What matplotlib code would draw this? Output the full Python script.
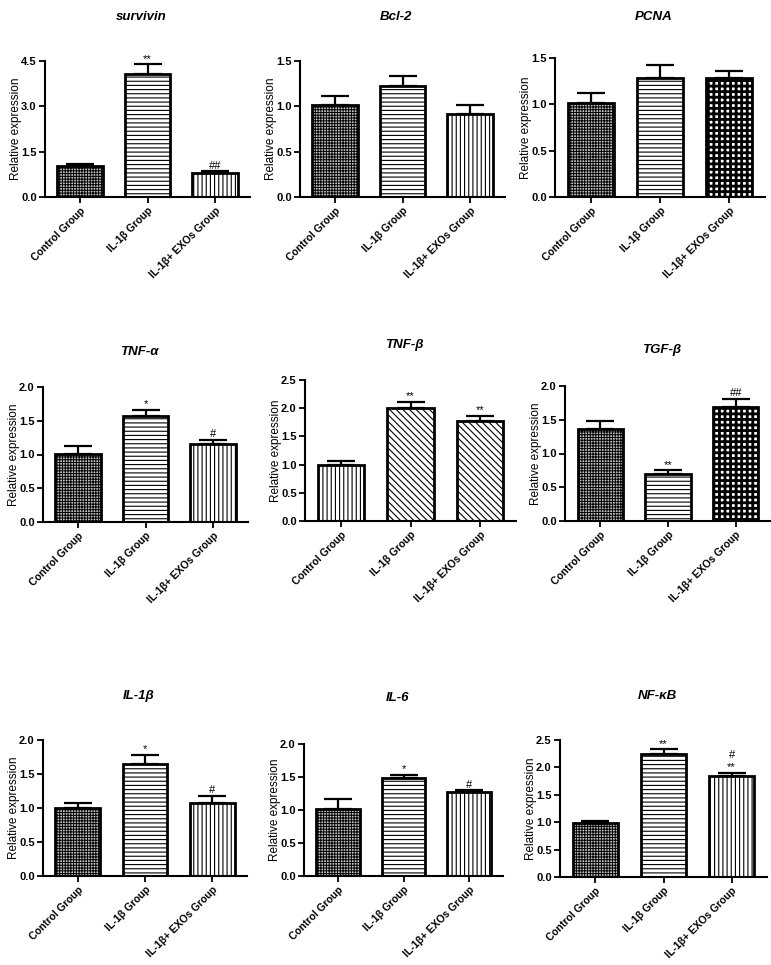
import matplotlib
matplotlib.use('Agg')
import matplotlib.pyplot as plt

plt.rcParams['font.family'] = ['Liberation Sans', 'DejaVu Sans']

groups = ['Control Group', 'IL-1β Group', 'IL-1β+ EXOs Group']

# one list per gene: means, upper error, significance marks
genes = ['survivin', 'Bcl-2', 'PCNA', 'TNF-α', 'TNF-β', 'TGF-β', 'IL-1β', 'IL-6', 'NF-κB']
means = [
    [1.01, 4.06, 0.79],
    [1.02, 1.22, 0.92],
    [1.01, 1.28, 1.28],
    [1.01, 1.57, 1.16],
    [1.00, 2.01, 1.78],
    [1.37, 0.70, 1.69],
    [1.00, 1.64, 1.08],
    [1.02, 1.49, 1.28],
    [0.99, 2.24, 1.85],
]
errors = [
    [0.09, 0.33, 0.06],
    [0.09, 0.11, 0.09],
    [0.11, 0.14, 0.08],
    [0.11, 0.09, 0.06],
    [0.07, 0.10, 0.09],
    [0.11, 0.05, 0.12],
    [0.08, 0.14, 0.10],
    [0.14, 0.04, 0.02],
    [0.03, 0.09, 0.05],
]
marks = [
    ['', '**', '##'],
    ['', '', ''],
    ['', '', ''],
    ['', '*', '#'],
    ['', '**', '**'],
    ['', '**', '##'],
    ['', '*', '#'],
    ['', '*', '#'],
    ['', '**', '#\n**'],
]
ymax = [4.5, 1.5, 1.5, 2.0, 2.5, 2.0, 2.0, 2.0, 2.5]
ysteps = [1.5, 0.5, 0.5, 0.5, 0.5, 0.5, 0.5, 0.5, 0.5]

# hatch per bar: fine checker, horizontal, vertical, coarse checker, diagonal
FINE, HOR, VER, COARSE, DIAG = 'fine', 'hor', 'ver', 'coarse', 'diag'
hatches = [
    [FINE, HOR, VER],
    [FINE, HOR, VER],
    [FINE, HOR, COARSE],
    [FINE, HOR, VER],
    [VER, DIAG, DIAG],
    [FINE, HOR, COARSE],
    [FINE, HOR, VER],
    [FINE, HOR, VER],
    [FINE, HOR, VER],
]
hatch_style = {
    FINE: ('++++++', 0.7, '#bdbdbd'),
    HOR: ('----', 0.8, 'white'),
    VER: ('||||', 0.8, 'white'),
    COARSE: ('+++', 2.0, 'white'),
    DIAG: ('\\\\\\\\\\', 0.8, 'white'),
}

# axes boxes in pixels: left, right, top (ymax), bottom (0)
boxes = [
    (45, 250, 61, 197), (300, 505, 61, 197), (555, 765, 58, 197),
    (43, 248, 387, 522), (305, 516, 380, 521), (565, 771, 386, 521),
    (43, 247, 740, 876), (304, 503, 744, 876), (560, 767, 740, 877),
]
title_y = [17, 17, 17, 352, 345, 350, 696, 698, 696]

W, H = 771, 965
fig = plt.figure(figsize=(W / 100, H / 100), dpi=100)

for i, g in enumerate(genes):
    l, r, t, b = boxes[i]
    ax = fig.add_axes([l / W, 1 - b / H, (r - l) / W, (b - t) / H])
    for j in range(3):
        pat, hlw, fc = hatch_style[hatches[i][j]]
        with plt.rc_context({'hatch.linewidth': hlw}):
            ax.bar(j, means[i][j], width=0.67, color=fc, edgecolor='black',
                   hatch=pat, linewidth=2, zorder=2)
        ax.errorbar(j, means[i][j], yerr=[[0], [errors[i][j]]], fmt='none',
                    ecolor='black', elinewidth=1.6, capsize=10, capthick=1.6, zorder=1)
        if marks[i][j]:
            ax.text(j, means[i][j] + errors[i][j] + ymax[i] * 0.005, marks[i][j],
                    ha='center', va='bottom', fontsize=8, linespacing=1.3)
    ax.set_xlim(-0.52, 2.52)
    ax.set_ylim(0, ymax[i])
    n = int(round(ymax[i] / ysteps[i]))
    ax.set_yticks([k * ysteps[i] for k in range(n + 1)])
    ax.yaxis.set_major_formatter(plt.FormatStrFormatter('%.1f'))
    ax.set_xticks(range(3))
    ax.set_xticklabels(groups, rotation=45, ha='right', rotation_mode='anchor',
                       fontsize=7.5, fontweight='bold')
    for lab in ax.get_yticklabels():
        lab.set_fontsize(8)
        lab.set_fontweight('bold')
    ax.tick_params(direction='out', length=4, width=1.3, pad=2)
    ax.spines['top'].set_visible(False)
    ax.spines['right'].set_visible(False)
    ax.spines['left'].set_linewidth(1.5)
    ax.spines['bottom'].set_linewidth(1.5)
    ax.set_ylabel('Relative expression', fontsize=8.5)
    ax.yaxis.set_label_coords(-23 / (r - l), 0.5)
    ax.patch.set_visible(False)
    fig.text((l + r) / 2 / W - 0.008, 1 - title_y[i] / H, g, ha='center', va='center',
             fontsize=9.5, fontweight='bold', fontstyle='italic')

fig.savefig('out.png', dpi=100)
